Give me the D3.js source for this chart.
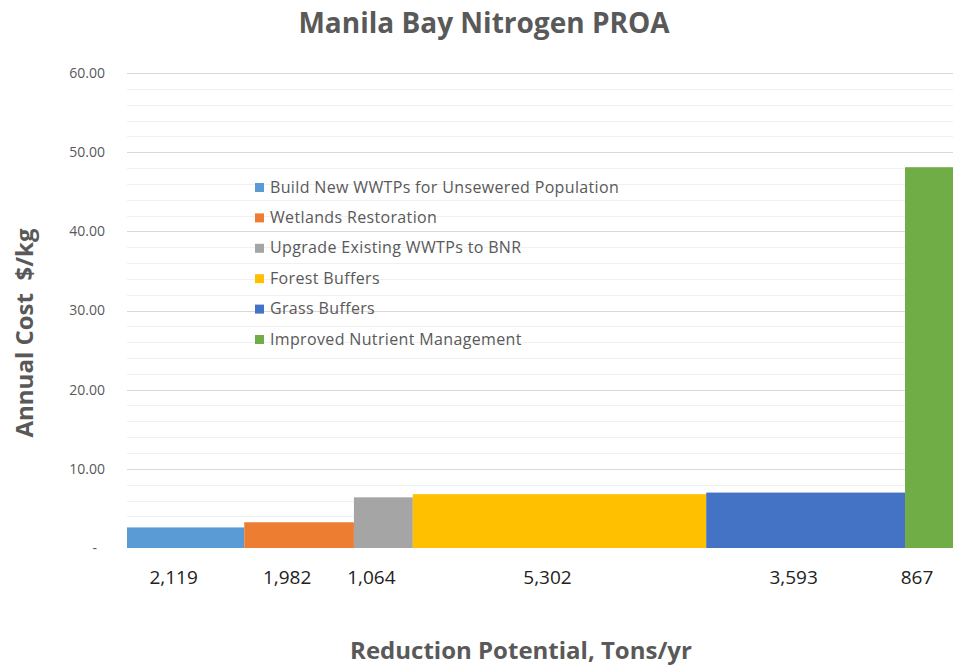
<!DOCTYPE html>
<html lang="en">
<head>
  <meta charset="utf-8">
  <title>Manila Bay Nitrogen PROA</title>
  <script src="https://d3js.org/d3.v7.min.js"></script>
  <style>
    body { margin: 0; background: #fff; }
    text { font-family: "Open Sans", "Noto Sans", sans-serif; fill: #595959; }
  </style>
</head>
<body>
  <svg width="953" height="668"></svg>
  <script>
    var measures = ["Build New WWTPs for Unsewered Population", "Wetlands Restoration",
      "Upgrade Existing WWTPs to BNR", "Forest Buffers", "Grass Buffers",
      "Improved Nutrient Management"];
    var reduction = [2119, 1982, 1064, 5302, 3593, 867];   // tons/yr
    var cost = [2.6, 3.25, 6.4, 6.8, 7.0, 48.1];           // $/kg
    var colors = ["#5b9bd5", "#ed7d31", "#a5a5a5", "#ffc000", "#4472c4", "#70ad47"];
    var yTicks = [0, 10, 20, 30, 40, 50, 60];

    var svg = d3.select("svg"),
      plotLeft = 127, plotRight = 953, plotTop = 73, plotBottom = 548;

    // running start of every bar along the x axis
    var bars = [], acc = 0;
    reduction.forEach(function(r, i) {
      bars.push({ name: measures[i], start: acc, end: acc + r, value: r, cost: cost[i], color: colors[i] });
      acc += r;
    });

    var x = d3.scaleLinear().domain([0, acc]).range([plotLeft, plotRight]);
    var y = d3.scaleLinear().domain([0, 60]).range([plotBottom, plotTop]);

    // minor gridlines every 2
    svg.append("g").selectAll("line")
      .data(d3.range(2, 60, 2).filter(function(v) { return v % 10 != 0; }))
      .join("line")
      .attr("x1", plotLeft).attr("x2", plotRight)
      .attr("y1", function(d) { return Math.round(y(d)) + 0.5; })
      .attr("y2", function(d) { return Math.round(y(d)) + 0.5; })
      .attr("stroke", "#f0f0f0");

    svg.append("g").selectAll("line")
      .data(yTicks.slice(1))
      .join("line")
      .attr("x1", plotLeft).attr("x2", plotRight)
      .attr("y1", function(d) { return Math.round(y(d)) + 0.5; })
      .attr("y2", function(d) { return Math.round(y(d)) + 0.5; })
      .attr("stroke", "#d9d9d9");

    svg.append("g").selectAll("text")
      .data(yTicks)
      .join("text")
      .attr("x", function(d) { return d == 0 ? 97 : 105; })
      .attr("y", function(d) { return y(d); })
      .attr("dy", "0.35em")
      .attr("text-anchor", "end")
      .style("font-size", "14px")
      .text(function(d) { return d == 0 ? "-" : d3.format(".2f")(d); });

    svg.append("g").selectAll("rect")
      .data(bars)
      .join("rect")
      .attr("x", function(d) { return x(d.start); })
      .attr("width", function(d) { return x(d.end) - x(d.start); })
      .attr("y", function(d) { return y(d.cost); })
      .attr("height", function(d) { return y(0) - y(d.cost); })
      .attr("fill", function(d) { return d.color; });

    svg.append("g").selectAll("text")
      .data(bars)
      .join("text")
      .attr("x", function(d) { return (x(d.start) + x(d.end)) / 2 - 12; })
      .attr("y", 584)
      .attr("text-anchor", "middle")
      .style("font-size", "19px")
      .style("fill", "#222")
      .text(function(d) { return d3.format(",")(d.value); });

    // legend
    var legend = svg.append("g").selectAll("g")
      .data(bars)
      .join("g")
      .attr("transform", function(d, i) { return "translate(255," + (187 + i * 30.4) + ")"; });

    legend.append("rect")
      .attr("x", 0).attr("y", -4)
      .attr("width", 9).attr("height", 9)
      .attr("fill", function(d) { return d.color; });

    legend.append("text")
      .attr("x", 15)
      .attr("dy", "0.35em")
      .style("font-size", "16px")
      .style("letter-spacing", "0.35px")
      .text(function(d) { return d.name; });

    svg.append("text")
      .attr("x", 484).attr("y", 33)
      .attr("text-anchor", "middle")
      .style("font-size", "28px")
      .style("font-weight", "bold")
      .text("Manila Bay Nitrogen PROA");

    svg.append("text")
      .attr("transform", "translate(33,333) rotate(-90)")
      .attr("text-anchor", "middle")
      .style("font-size", "24px")
      .style("font-weight", "bold")
      .style("white-space", "pre")
      .text("Annual Cost  $/kg");

    svg.append("text")
      .attr("x", 521).attr("y", 659)
      .attr("text-anchor", "middle")
      .style("font-size", "24px")
      .style("font-weight", "bold")
      .text("Reduction Potential, Tons/yr");
  </script>
</body>
</html>
